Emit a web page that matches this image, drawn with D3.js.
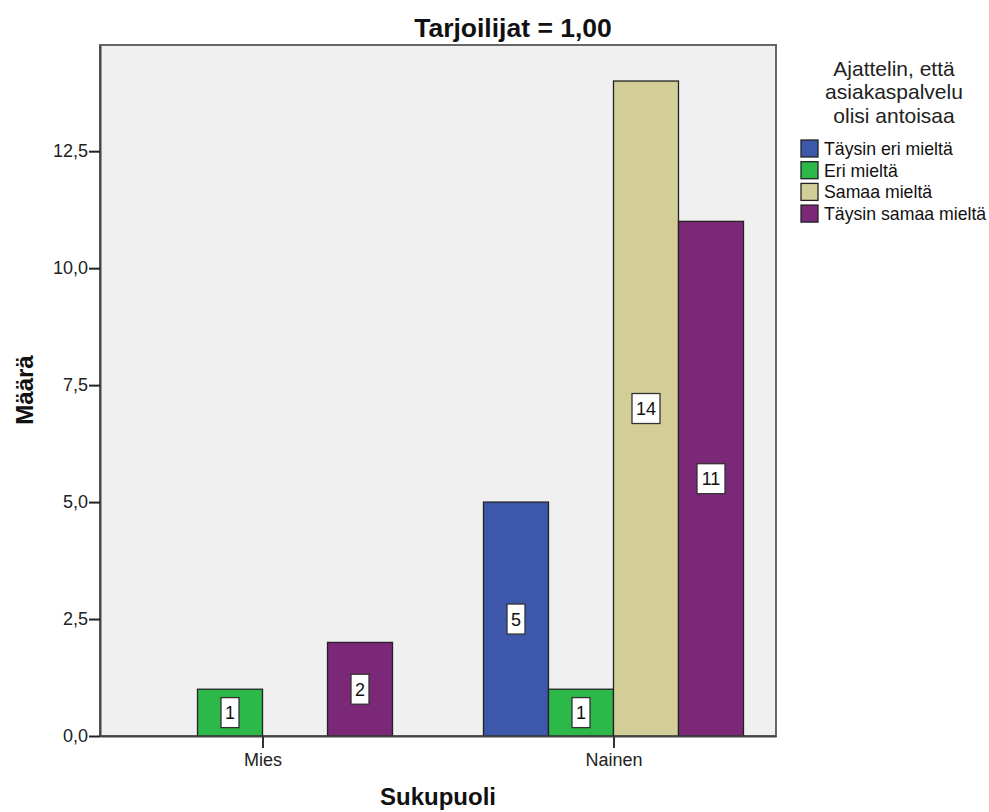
<!DOCTYPE html>
<html>
<head>
<meta charset="utf-8">
<script src="https://cdn.jsdelivr.net/npm/d3@7"></script>
<style>
  html, body { margin: 0; padding: 0; background: #fff; }
  svg { display: block; font-family: "Liberation Sans", Arial, sans-serif; }
</style>
</head>
<body>
<svg id="chart" width="989" height="812"></svg>
<script>
// Count of respondents by gender and answer
const genders = ["Mies", "Nainen"];
const answers = ["Täysin eri mieltä", "Eri mieltä", "Samaa mieltä", "Täysin samaa mieltä"];
const colors = ["#3d57aa", "#2db84a", "#d3ce98", "#7c2878"];
const miesValues = [0, 1, 0, 2];
const nainenValues = [5, 1, 14, 11];
const yTicks = [0, 2.5, 5, 7.5, 10, 12.5];
const title = "Tarjoilijat = 1,00";
const legendTitle = ["Ajattelin, että", "asiakaspalvelu", "olisi antoisaa"];

const values = [miesValues, nainenValues];
const rows = [];
genders.forEach((g, gi) => answers.forEach((a, ai) => {
  if (values[gi][ai] > 0) rows.push({ gender: g, answer: a, idx: ai, value: values[gi][ai] });
}));

const svg = d3.select("#chart");
const plot = { left: 100, top: 45, right: 776, bottom: 736 };
const font = "Liberation Sans, Arial, sans-serif";

const y = d3.scaleLinear().domain([0, 14.77]).range([plot.bottom, plot.top]);
const x = d3.scalePoint().domain(genders).range([plot.left, plot.right]).padding(0.463);
const barW = 65;
const xs = d3.scaleBand().domain(d3.range(answers.length)).range([-2 * barW, 2 * barW]).padding(0);

// plot background
svg.append("rect")
  .attr("x", plot.left).attr("y", plot.top)
  .attr("width", plot.right - plot.left).attr("height", plot.bottom - plot.top)
  .attr("fill", "#f0f0f0").attr("stroke", "#666").attr("stroke-width", 2);

// bars
svg.append("g").selectAll("rect").data(rows).join("rect")
  .attr("x", d => x(d.gender) + xs(d.idx))
  .attr("y", d => y(d.value))
  .attr("width", xs.bandwidth())
  .attr("height", d => y(0) - y(d.value))
  .attr("fill", d => colors[d.idx])
  .attr("stroke", "#222").attr("stroke-width", 1.3);

// value labels
const lab = svg.append("g").selectAll("g").data(rows).join("g")
  .attr("transform", d => `translate(${x(d.gender) + xs(d.idx) + xs.bandwidth() / 2},${(y(d.value) + y(0)) / 2})`);
lab.append("rect")
  .attr("x", d => -(String(d.value).length * 10 + 8) / 2)
  .attr("y", -15)
  .attr("width", d => String(d.value).length * 10 + 8)
  .attr("height", 30)
  .attr("fill", "#fff").attr("stroke", "#333").attr("stroke-width", 1.3);
lab.append("text")
  .attr("text-anchor", "middle").attr("dy", "0.36em")
  .attr("font-size", 18).attr("fill", "#111")
  .text(d => d.value);

// y axis
const yAxis = d3.axisLeft(y).tickValues(yTicks).tickSize(11).tickSizeOuter(0).tickPadding(1)
  .tickFormat(d => d3.format(".1f")(d).replace(".", ","));
const gy = svg.append("g").attr("transform", `translate(${plot.left},0)`).call(yAxis);
gy.select(".domain").attr("stroke", "#444").attr("stroke-width", 2);
gy.selectAll(".tick line").attr("stroke", "#222").attr("stroke-width", 2);
gy.selectAll(".tick text").attr("font-size", 18).attr("fill", "#222").attr("font-family", font);

// x axis
const xAxis = d3.axisBottom(x).tickSize(12).tickSizeOuter(0).tickPadding(5);
const gx = svg.append("g").attr("transform", `translate(0,${plot.bottom})`).call(xAxis);
gx.select(".domain").attr("stroke", "#444").attr("stroke-width", 2);
gx.selectAll(".tick line").attr("stroke", "#333").attr("stroke-width", 2);
gx.selectAll(".tick text").attr("font-size", 18).attr("fill", "#222").attr("font-family", font);

// titles
svg.append("text").attr("x", 513).attr("y", 37).attr("text-anchor", "middle")
  .attr("font-size", 26.5).attr("font-weight", "bold").attr("fill", "#111").text(title);
svg.append("text").attr("x", 438).attr("y", 805).attr("text-anchor", "middle")
  .attr("font-size", 24).attr("font-weight", "bold").attr("fill", "#111").text("Sukupuoli");
svg.append("text").attr("transform", "translate(33,390) rotate(-90)").attr("text-anchor", "middle")
  .attr("font-size", 24).attr("font-weight", "bold").attr("fill", "#111").text("Määrä");

// legend
const lg = svg.append("g");
lg.selectAll("text.lt").data(legendTitle).join("text").attr("class", "lt")
  .attr("x", 894).attr("y", (d, i) => 76 + i * 23.3).attr("text-anchor", "middle")
  .attr("font-size", 21).attr("fill", "#222").text(d => d);
const items = lg.selectAll("g.it").data(answers).join("g").attr("class", "it")
  .attr("transform", (d, i) => `translate(801,${140 + i * 21.7})`);
items.append("rect").attr("width", 17).attr("height", 17)
  .attr("fill", (d, i) => colors[i]).attr("stroke", "#222").attr("stroke-width", 1.3);
items.append("text").attr("x", 23).attr("y", 15).attr("font-size", 17.7).attr("fill", "#111").text(d => d);
</script>
</body>
</html>
